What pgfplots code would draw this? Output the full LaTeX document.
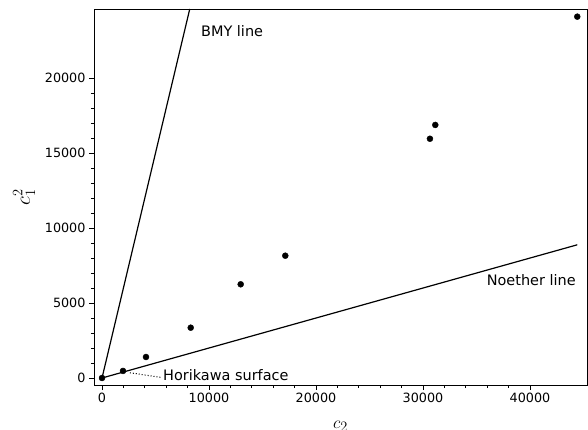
\documentclass[border=0pt]{standalone}
\usepackage{pgfplots}
\pgfplotsset{compat=1.18}
\usepackage{fontspec}
\setmainfont{DejaVu Sans}
\setsansfont{DejaVu Sans}

\begin{document}
\begin{tikzpicture}
\begin{axis}[
  scale only axis,
  width=493bp, height=376bp,
  xmin=-750, xmax=45330,
  ymin=-467, ymax=24600,
  xtick={0,10000,...,40000},
  ytick={0,5000,...,20000},
  minor tick num=4,
  tick align=outside,
  xtick pos=bottom, ytick pos=left,
  major tick length=5bp, minor tick length=3bp,
  every tick/.style={black, line width=0.8bp},
  axis line style={line width=0.9bp},
  scaled ticks=false,
  tick label style={font=\fontsize{12.8}{15}\selectfont},
  /pgf/number format/1000 sep={},
  /pgf/number format/assume math mode=true,
  xlabel={$c_2$}, ylabel={$c_1^2$},
  xlabel style={font=\fontsize{19}{23}\selectfont, yshift=-11bp},
  ylabel style={font=\fontsize{21}{25}\selectfont, yshift=3bp},
  clip=true,
]
  \coordinate (sw) at (rel axis cs:0,0);
  \coordinate (ne) at (rel axis cs:1,1);
  % BMY line c1^2 = 3 c2
  \addplot[black, line width=1.2bp] coordinates {(0,0) (8200,24600)};
  % Noether line
  \addplot[black, line width=1.2bp] coordinates {(0,0) (44420,8880)};
  % Horikawa pointer
  \addplot[black, dotted, line width=1bp] coordinates {(2600,350) (5600,30)};
  \addplot[only marks, mark=*, mark size=3bp, black] coordinates {
    (0,0) (1960,470) (4110,1400) (8290,3353) (12960,6247)
    (17130,8153) (30650,15950) (31150,16870) (44420,24090)
  };
  \node[anchor=west, font=\fontsize{14.5}{17}\selectfont, inner sep=0pt] at (axis cs:5700,200) {Horikawa surface};
  \node[anchor=west, font=\fontsize{14.5}{17}\selectfont, inner sep=0pt] at (axis cs:9250,23130) {BMY line};
  \node[anchor=west, font=\fontsize{14.5}{17}\selectfont, inner sep=0pt] at (axis cs:35950,6530) {Noether line};
\end{axis}
\pgfresetboundingbox
\path[use as bounding box] ([shift={(-94bp,-45bp)}]sw) rectangle ([shift={(1bp,9bp)}]ne);
\end{tikzpicture}
\end{document}
